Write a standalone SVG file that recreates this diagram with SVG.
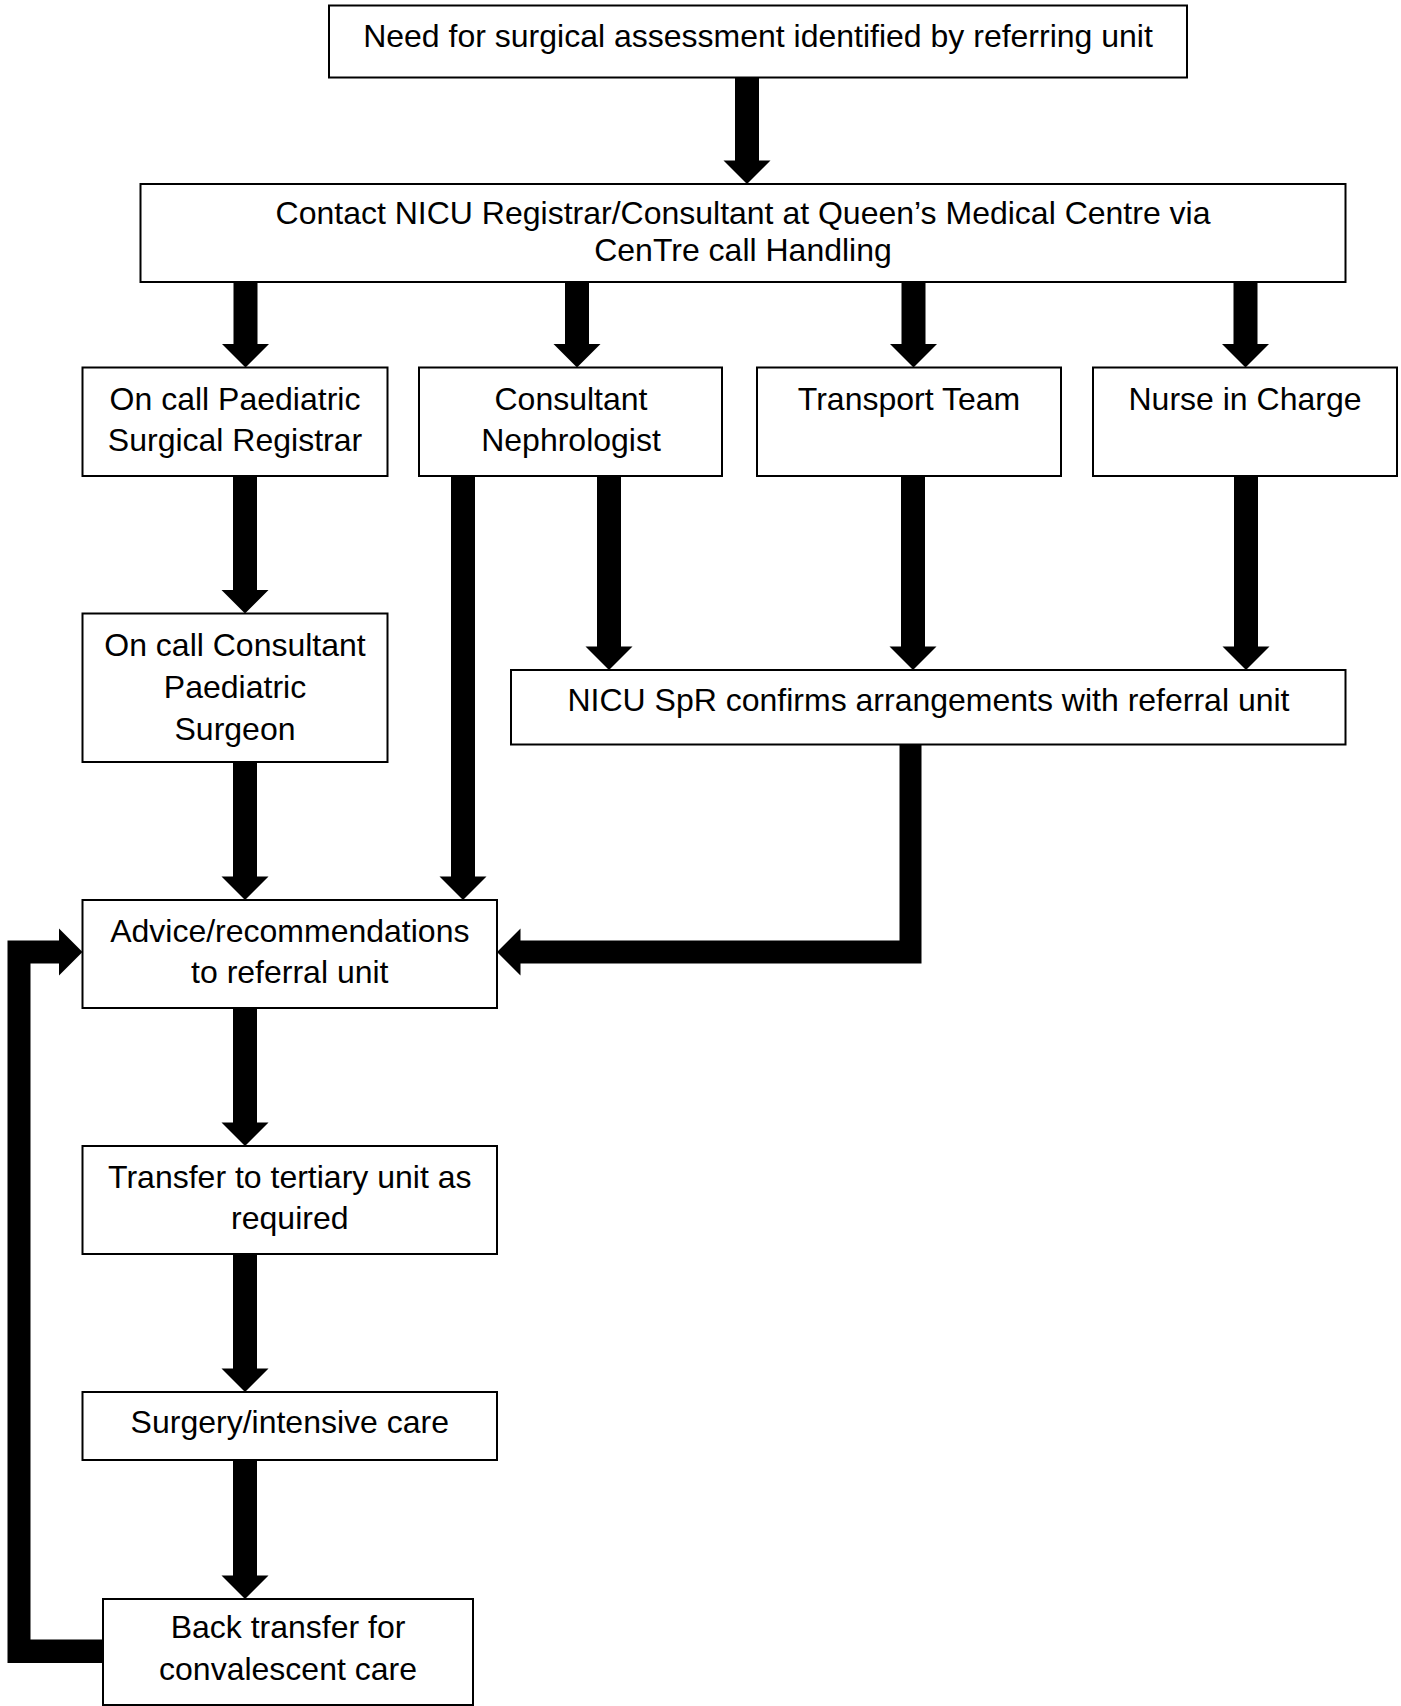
<svg xmlns="http://www.w3.org/2000/svg" width="1401" height="1706" viewBox="0 0 1401 1706">
<style>
.box{fill:#fff;stroke:#000;stroke-width:2}
.t{font-family:"Liberation Sans",Arial,sans-serif;font-size:32px;fill:#000;text-anchor:middle}
.arr{fill:#000;stroke:none}
</style>
<rect width="1401" height="1706" fill="#fff"/>
<g id="connectors">
<polygon class="arr" points="735,77.5 759,77.5 759,160.5 770.5,160.5 747,184 723.5,160.5 735,160.5"/>
<polygon class="arr" points="233.5,282 257.5,282 257.5,344 269,344 245.5,367.5 222,344 233.5,344"/>
<polygon class="arr" points="565,282 589,282 589,344 600.5,344 577,367.5 553.5,344 565,344"/>
<polygon class="arr" points="901.5,282 925.5,282 925.5,344 937,344 913.5,367.5 890,344 901.5,344"/>
<polygon class="arr" points="1233.5,282 1257.5,282 1257.5,344 1269,344 1245.5,367.5 1222,344 1233.5,344"/>
<polygon class="arr" points="233,476 257,476 257,590 268.5,590 245,613.5 221.5,590 233,590"/>
<polygon class="arr" points="451,476 475,476 475,876.5 486.5,876.5 463,900 439.5,876.5 451,876.5"/>
<polygon class="arr" points="597,476 621,476 621,646.5 632.5,646.5 609,670 585.5,646.5 597,646.5"/>
<polygon class="arr" points="901,476 925,476 925,646.5 936.5,646.5 913,670 889.5,646.5 901,646.5"/>
<polygon class="arr" points="1234,476 1258,476 1258,646.5 1269.5,646.5 1246,670 1222.5,646.5 1234,646.5"/>
<polygon class="arr" points="233,762 257,762 257,876.5 268.5,876.5 245,900 221.5,876.5 233,876.5"/>
<polygon class="arr" points="899.5,744.5 921.5,744.5 921.5,963.5 520.5,963.5 520.5,975.5 497,952 520.5,928.5 520.5,940.5 899.5,940.5"/>
<polygon class="arr" points="233,1008 257,1008 257,1122.5 268.5,1122.5 245,1146 221.5,1122.5 233,1122.5"/>
<polygon class="arr" points="233,1254 257,1254 257,1368.5 268.5,1368.5 245,1392 221.5,1368.5 233,1368.5"/>
<polygon class="arr" points="233,1460 257,1460 257,1575.5 268.5,1575.5 245,1599 221.5,1575.5 233,1575.5"/>
<polygon class="arr" points="103,1639.5 103,1663 7.5,1663 7.5,940.5 59,940.5 59,928.5 82.5,952 59,975.5 59,963.5 30.5,963.5 30.5,1639.5"/>
</g>
<g id="n1"><rect class="box" x="329" y="5.5" width="858" height="72"/><text class="t" x="758" y="47">Need for surgical assessment identified by referring unit</text></g>
<g id="n2"><rect class="box" x="140.5" y="184" width="1205" height="98"/><text class="t" x="743" y="224">Contact NICU Registrar/Consultant at Queen’s Medical Centre via</text><text class="t" x="743" y="261">CenTre call Handling</text></g>
<g id="n3"><rect class="box" x="82.5" y="367.5" width="305" height="108.5"/><text class="t" x="235" y="410">On call Paediatric</text><text class="t" x="235" y="451">Surgical Registrar</text></g>
<g id="n4"><rect class="box" x="419" y="367.5" width="303" height="108.5"/><text class="t" x="571" y="410">Consultant</text><text class="t" x="571" y="451">Nephrologist</text></g>
<g id="n5"><rect class="box" x="757" y="367.5" width="304" height="108.5"/><text class="t" x="909" y="410">Transport Team</text></g>
<g id="n6"><rect class="box" x="1093" y="367.5" width="304" height="108.5"/><text class="t" x="1245" y="410">Nurse in Charge</text></g>
<g id="n7"><rect class="box" x="82.5" y="613.5" width="305" height="148.5"/><text class="t" x="235" y="656">On call Consultant</text><text class="t" x="235" y="698">Paediatric</text><text class="t" x="235" y="740">Surgeon</text></g>
<g id="n8"><rect class="box" x="511" y="670" width="834.5" height="74.5"/><text class="t" x="928.5" y="711">NICU SpR confirms arrangements with referral unit</text></g>
<g id="n9"><rect class="box" x="82.5" y="900" width="414.5" height="108"/><text class="t" x="289.8" y="942">Advice/recommendations</text><text class="t" x="289.8" y="983">to referral unit</text></g>
<g id="n10"><rect class="box" x="82.5" y="1146" width="414.5" height="108"/><text class="t" x="289.8" y="1188">Transfer to tertiary unit as</text><text class="t" x="289.8" y="1229">required</text></g>
<g id="n11"><rect class="box" x="82.5" y="1392" width="414.5" height="68"/><text class="t" x="289.8" y="1433">Surgery/intensive care</text></g>
<g id="n12"><rect class="box" x="103" y="1599" width="370" height="106"/><text class="t" x="288" y="1638">Back transfer for</text><text class="t" x="288" y="1680">convalescent care</text></g>
</svg>
